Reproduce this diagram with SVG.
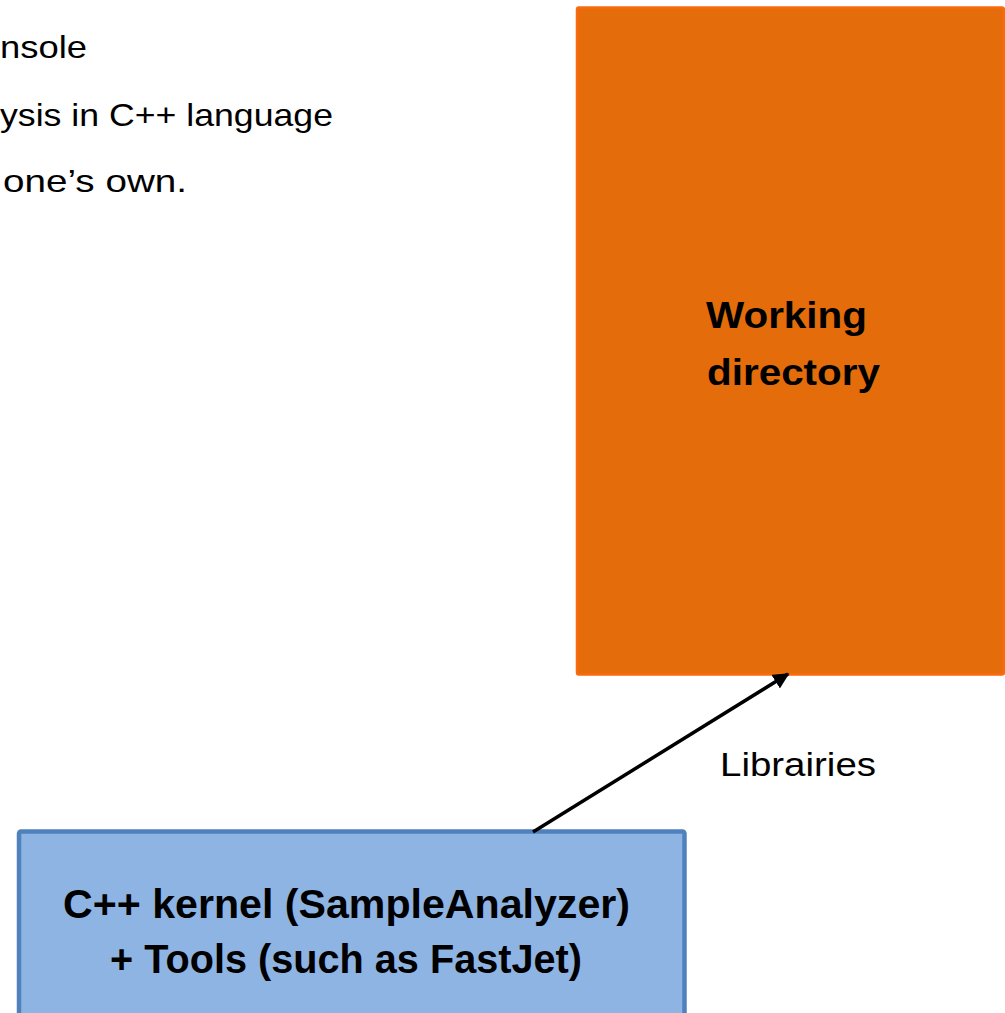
<svg xmlns="http://www.w3.org/2000/svg" width="1005" height="1013" viewBox="0 0 1005 1013">
<defs>
<style>
.t{font-family:"Liberation Sans",Arial,sans-serif;fill:#000}
.b{font-weight:bold}
.node-o{fill:#E46C0A;stroke:#FA6A0C;stroke-width:2.5}
.node-b{fill:#8EB4E3;stroke:#4F81BD;stroke-width:4.5}
.conn{stroke:#000;stroke-width:3.5;fill:none}
</style>
<marker id="ah" viewBox="0 0 10 10" refX="9" refY="5" markerWidth="4.6" markerHeight="4.6" markerUnits="strokeWidth" orient="auto">
<path d="M0,0 L10,5 L0,10 z" fill="#000"/>
</marker>
</defs>
<rect width="1005" height="1013" fill="#fff"/>
<g id="intro-text">
<text class="t" x="0" y="58" font-size="32" textLength="87" lengthAdjust="spacingAndGlyphs">nsole</text>
<text class="t" x="0" y="126" font-size="32" textLength="333" lengthAdjust="spacingAndGlyphs">ysis in C++ language</text>
<text class="t" x="3" y="192" font-size="32" textLength="184" lengthAdjust="spacingAndGlyphs">one’s own.</text>
</g>
<g id="working-directory">
<rect class="node-o" x="577" y="7.5" width="427" height="667" rx="2"/>
<text class="t b" x="706" y="328" font-size="37" textLength="161" lengthAdjust="spacingAndGlyphs">Working</text>
<text class="t b" x="707" y="385" font-size="37" textLength="173" lengthAdjust="spacingAndGlyphs">directory</text>
</g>
<g id="kernel">
<rect class="node-b" x="19" y="831.5" width="665.5" height="200" rx="2"/>
<text class="t b" x="63" y="918" font-size="41" textLength="567" lengthAdjust="spacingAndGlyphs">C++ kernel (SampleAnalyzer)</text>
<text class="t b" x="110" y="973" font-size="41" textLength="472" lengthAdjust="spacingAndGlyphs">+ Tools (such as FastJet)</text>
</g>
<g id="connectors">
<line class="conn" x1="533" y1="832" x2="788" y2="674" marker-end="url(#ah)"/>
<text class="t" x="720" y="776" font-size="33" textLength="156" lengthAdjust="spacingAndGlyphs">Librairies</text>
</g>
</svg>
